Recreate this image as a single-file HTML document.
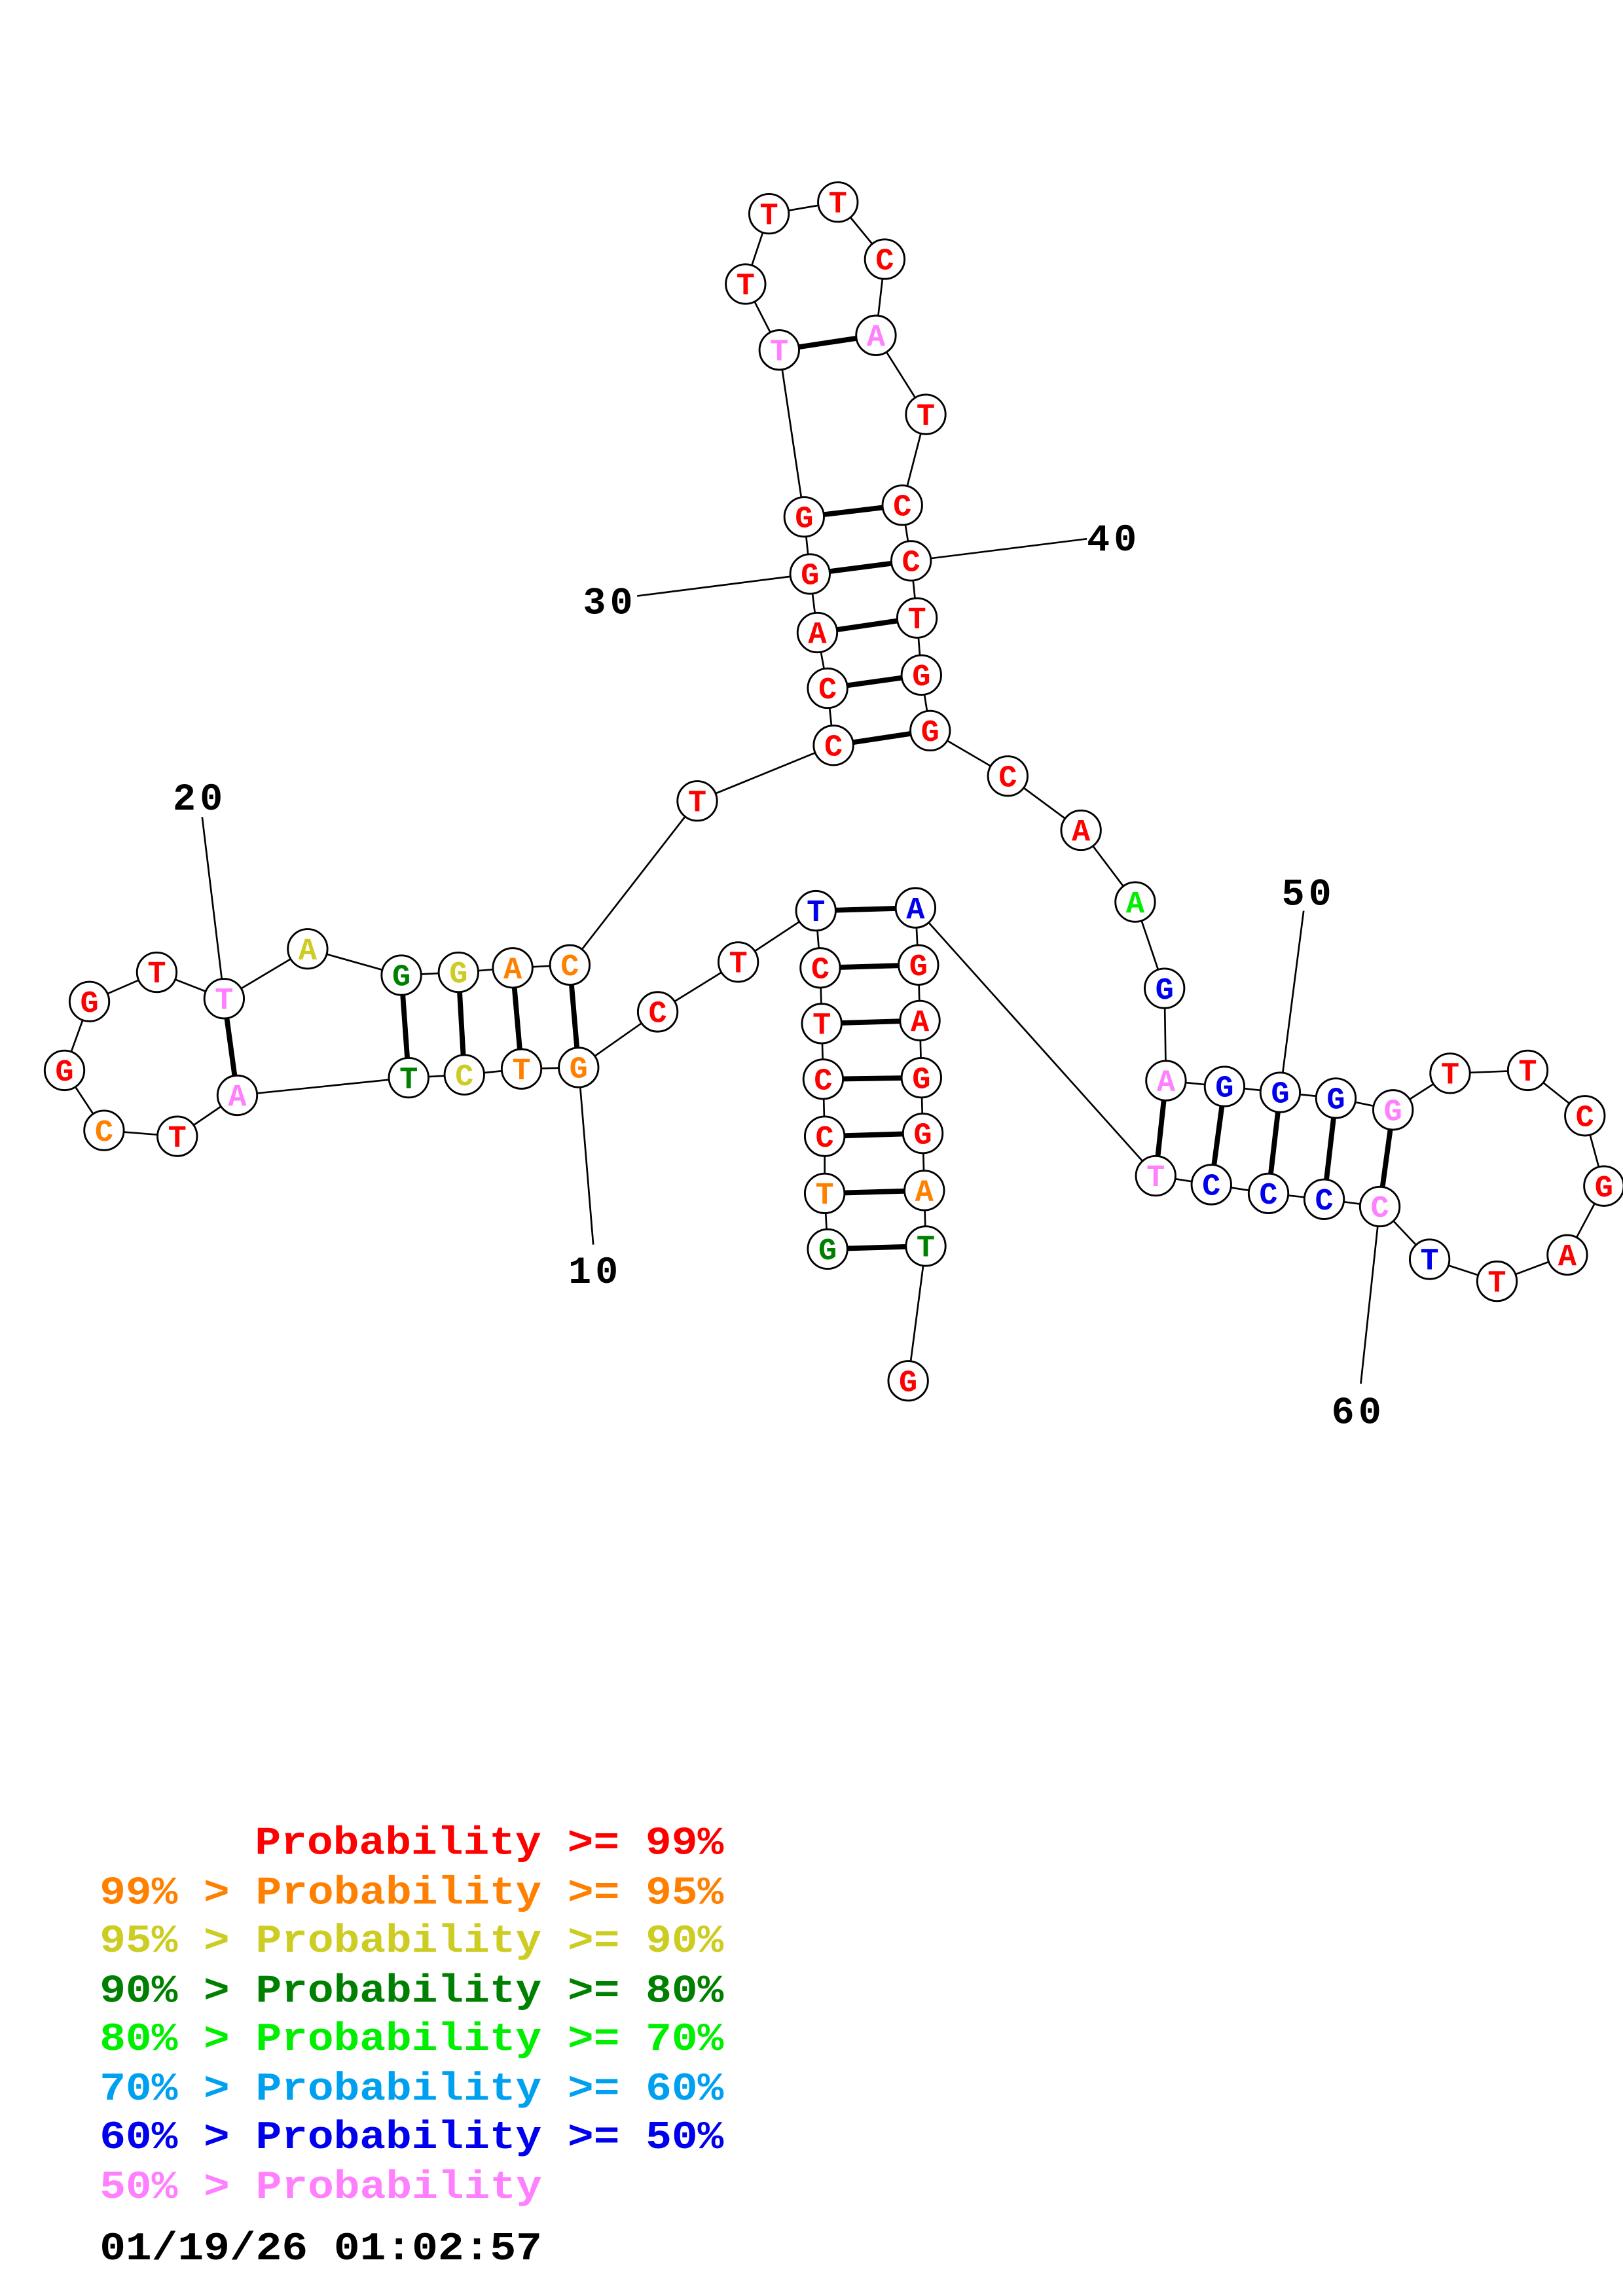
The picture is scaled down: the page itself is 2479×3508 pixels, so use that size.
<!DOCTYPE html>
<html><head><meta charset="utf-8"><style>
html,body{margin:0;padding:0;background:#fff;}
svg{display:block;}
</style></head><body>
<svg xmlns="http://www.w3.org/2000/svg" width="2479" height="3508" viewBox="0 0 1108 1568">
<rect width="1108" height="1568" fill="#fff"/>
<g id="lbl" stroke="#000" stroke-width="1.2">
<line x1="395" y1="729" x2="405" y2="850"/>
<line x1="153" y1="682" x2="138" y2="558"/>
<line x1="553" y1="392" x2="435" y2="407"/>
<line x1="622" y1="383" x2="742" y2="368"/>
<line x1="874" y1="746" x2="890" y2="622"/>
<line x1="942" y1="824" x2="929" y2="945"/>
</g>
<g font-family="Liberation Mono, monospace" font-weight="bold" font-size="26" fill="#000">
<text x="388" y="876" textLength="34">10</text>
<text x="118" y="553" textLength="34">20</text>
<text x="398" y="419" textLength="34">30</text>
<text x="742" y="376" textLength="34">40</text>
<text x="875" y="618" textLength="34">50</text>
<text x="909" y="972" textLength="34">60</text>
</g>
<g id="legend" font-family="Liberation Mono, monospace" font-weight="bold" font-size="27">
<text x="174" y="1266" fill="#ff0000" textLength="320" lengthAdjust="spacingAndGlyphs">Probability &gt;= 99%</text>
<text x="68" y="1300" fill="#ff8000" textLength="426" lengthAdjust="spacingAndGlyphs">99% &gt; Probability &gt;= 95%</text>
<text x="68" y="1333" fill="#cccc22" textLength="426" lengthAdjust="spacingAndGlyphs">95% &gt; Probability &gt;= 90%</text>
<text x="68" y="1367" fill="#008000" textLength="426" lengthAdjust="spacingAndGlyphs">90% &gt; Probability &gt;= 80%</text>
<text x="68" y="1400" fill="#00ee00" textLength="426" lengthAdjust="spacingAndGlyphs">80% &gt; Probability &gt;= 70%</text>
<text x="68" y="1434" fill="#00a0f0" textLength="426" lengthAdjust="spacingAndGlyphs">70% &gt; Probability &gt;= 60%</text>
<text x="68" y="1467" fill="#0000ee" textLength="426" lengthAdjust="spacingAndGlyphs">60% &gt; Probability &gt;= 50%</text>
<text x="68" y="1501" fill="#ff80ff" textLength="302" lengthAdjust="spacingAndGlyphs">50% &gt; Probability</text>
<text x="68" y="1543" fill="#000" textLength="302" lengthAdjust="spacingAndGlyphs">01/19/26 01:02:57</text>
</g>
<g id="net">
<polyline fill="none" stroke="#000" stroke-width="1.2" points="565,853 563,815 563,776 562,737 561,699 560,661 557,622 504,657 449,691 395,729 356,730 317,734 279,736 162,748 121,776 71,772 44,731 61,684 107,664 153,682 210,648 274,666 313,664 350,661 389,659 476,547 569,509 565,470 558,432 553,392 549,353 532,239 509,194 525,146 572,138 604,177 598,229 632,283 616,345 622,383 626,422 629,461 635,499 688,530 738,567 775,616 795,675 796,738 836,742 874,746 912,750 951,758 990,733 1043,731 1082,762 1095,810 1070,857 1022,875 976,860 942,824 904,819 866,815 827,809 789,803 625,620 627,659 628,697 629,736 630,774 631,813 632,851 620,943"/>
<g stroke="#000" stroke-width="3.5">
<line x1="565" y1="853" x2="632" y2="851"/>
<line x1="563" y1="815" x2="631" y2="813"/>
<line x1="563" y1="776" x2="630" y2="774"/>
<line x1="562" y1="737" x2="629" y2="736"/>
<line x1="561" y1="699" x2="628" y2="697"/>
<line x1="560" y1="661" x2="627" y2="659"/>
<line x1="557" y1="622" x2="625" y2="620"/>
<line x1="395" y1="729" x2="389" y2="659"/>
<line x1="356" y1="730" x2="350" y2="661"/>
<line x1="317" y1="734" x2="313" y2="664"/>
<line x1="279" y1="736" x2="274" y2="666"/>
<line x1="162" y1="748" x2="153" y2="682"/>
<line x1="569" y1="509" x2="635" y2="499"/>
<line x1="565" y1="470" x2="629" y2="461"/>
<line x1="558" y1="432" x2="626" y2="422"/>
<line x1="553" y1="392" x2="622" y2="383"/>
<line x1="549" y1="353" x2="616" y2="345"/>
<line x1="532" y1="239" x2="598" y2="229"/>
<line x1="796" y1="738" x2="789" y2="803"/>
<line x1="836" y1="742" x2="827" y2="809"/>
<line x1="874" y1="746" x2="866" y2="815"/>
<line x1="912" y1="750" x2="904" y2="819"/>
<line x1="951" y1="758" x2="942" y2="824"/>
</g>
</g>
<g id="nodes" font-family="Liberation Mono, monospace" font-weight="bold" font-size="21" text-anchor="middle">
</g>
<script>
var N=[
[565,853,'G','dg'],[563,815,'T','o'],[563,776,'C','r'],[562,737,'C','r'],[561,699,'T','r'],[560,661,'C','r'],[557,622,'T','b'],[504,657,'T','r'],[449,691,'C','r'],[395,729,'G','o'],
[356,730,'T','o'],[317,734,'C','y'],[279,736,'T','dg'],[162,748,'A','p'],[121,776,'T','r'],[71,772,'C','o'],[44,731,'G','r'],[61,684,'G','r'],[107,664,'T','r'],[153,682,'T','p'],
[210,648,'A','y'],[274,666,'G','dg'],[313,664,'G','y'],[350,661,'A','o'],[389,659,'C','o'],[476,547,'T','r'],[569,509,'C','r'],[565,470,'C','r'],[558,432,'A','r'],[553,392,'G','r'],
[549,353,'G','r'],[532,239,'T','p'],[509,194,'T','r'],[525,146,'T','r'],[572,138,'T','r'],[604,177,'C','r'],[598,229,'A','p'],[632,283,'T','r'],[616,345,'C','r'],[622,383,'C','r'],
[626,422,'T','r'],[629,461,'G','r'],[635,499,'G','r'],[688,530,'C','r'],[738,567,'A','r'],[775,616,'A','g'],[795,675,'G','b'],[796,738,'A','p'],[836,742,'G','b'],[874,746,'G','b'],
[912,750,'G','b'],[951,758,'G','p'],[990,733,'T','r'],[1043,731,'T','r'],[1082,762,'C','r'],[1095,810,'G','r'],[1070,857,'A','r'],[1022,875,'T','r'],[976,860,'T','b'],[942,824,'C','p'],
[904,819,'C','b'],[866,815,'C','b'],[827,809,'C','b'],[789,803,'T','p'],[625,620,'A','b'],[627,659,'G','r'],[628,697,'A','r'],[629,736,'G','r'],[630,774,'G','r'],[631,813,'A','o'],
[632,851,'T','dg'],[620,943,'G','r']];
var C={r:'#ff0000',o:'#ff8000',y:'#cccc22',dg:'#008000',g:'#00ee00',b:'#0000ee',p:'#ff80ff'};
var ns='http://www.w3.org/2000/svg',g=document.getElementById('nodes');
N.forEach(function(n){
var c=document.createElementNS(ns,'circle');c.setAttribute('cx',n[0]);c.setAttribute('cy',n[1]);c.setAttribute('r',13.5);
c.setAttribute('fill','#fff');c.setAttribute('stroke','#000');c.setAttribute('stroke-width','1.3');g.appendChild(c);
var t=document.createElementNS(ns,'text');t.setAttribute('x',n[0]);t.setAttribute('y',n[1]+7);t.setAttribute('fill',C[n[3]]);t.textContent=n[2];g.appendChild(t);
});
</script>
</svg>
</body></html>
